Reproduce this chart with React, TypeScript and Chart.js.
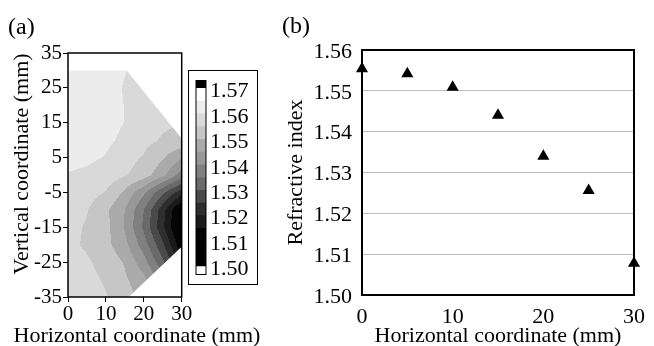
import React, { useEffect, useRef } from 'react';
import { Chart, registerables } from 'chart.js';

Chart.register(...registerables);

const FONT = "'Liberation Serif', 'Times New Roman', Times, serif";
Chart.defaults.font.family = FONT;
Chart.defaults.color = '#000';

// ---------- Panel (a): refractive index map (mm grid) ----------
const mapX = [0, 5, 10, 15, 20, 25, 30];
const mapY = [30, 25, 20, 15, 10, 5, 0, -5, -10, -15, -20, -25, -30, -35];
const mapN = [
  [1.5625, 1.5625, 1.5615, 1.5602, 1.558, 1.556, 1.555],
  [1.5625, 1.5625, 1.5615, 1.5597, 1.558, 1.556, 1.555],
  [1.5625, 1.5625, 1.5615, 1.5599, 1.558, 1.556, 1.555],
  [1.5625, 1.5625, 1.5615, 1.5599, 1.5575, 1.5558, 1.555],
  [1.562, 1.562, 1.561, 1.559, 1.5565, 1.5545, 1.5535],
  [1.5615, 1.561, 1.5597, 1.557, 1.5545, 1.5505, 1.5455],
  [1.5597, 1.559, 1.5575, 1.5555, 1.5525, 1.5465, 1.5375],
  [1.5585, 1.557, 1.5548, 1.549, 1.541, 1.531, 1.522],
  [1.557, 1.5553, 1.551, 1.545, 1.535, 1.522, 1.508],
  [1.5565, 1.5545, 1.5515, 1.5445, 1.534, 1.521, 1.507],
  [1.5562, 1.5543, 1.5515, 1.5465, 1.5375, 1.526, 1.511],
  [1.5568, 1.5556, 1.5535, 1.5495, 1.542, 1.531, 1.518],
  [1.5572, 1.5562, 1.5545, 1.5508, 1.5465, 1.538, 1.526],
  [1.5576, 1.5567, 1.5553, 1.5525, 1.548, 1.541, 1.532],
];
// measured region outline (mm)
const domainX = [0, 15.5, 30, 30, 16, 0];
const domainY = [30, 30, 10.5, -20.6, -35, -35];

// contour levels and grey shades
const levels = [1.5, 1.505, 1.51, 1.515, 1.52, 1.525, 1.53, 1.535, 1.54, 1.545, 1.55, 1.555, 1.56, 1.565, 1.57];
const bandColors = [
  '#000000', '#000000', '#050505', '#1a1a1a', '#2e2e2e', '#4a4a4a', '#6a6a6a',
  '#808080', '#989898', '#aaaaaa', '#c6c6c6', '#d9d9d9', '#ececec', '#ffffff',
];
const overColor = '#000000';
const underColor = '#ffffff';
const cbTicks = [1.5, 1.51, 1.52, 1.53, 1.54, 1.55, 1.56, 1.57];
const cbMin = 1.4969;
const cbMax = 1.5731;

const axTicksX = [0, 10, 20, 30];
const axTicksY = [-35, -25, -15, -5, 5, 15, 25, 35];

// ---------- Panel (b): refractive index profile ----------
const profX = [0, 5, 10, 15, 20, 25, 30];
const profN = [1.5554, 1.5542, 1.5509, 1.544, 1.534, 1.5256, 1.5078];

// ---------- helpers ----------
function hexToRgb(h: string): number[] {
  const n = parseInt(h.slice(1), 16);
  return [(n >> 16) & 255, (n >> 8) & 255, n & 255];
}
const bandRgb = bandColors.map(hexToRgb);
const overRgb = hexToRgb(overColor);
const underRgb = hexToRgb(underColor);

function bandRgbFor(v: number): number[] {
  if (v < levels[0]) return underRgb;
  for (let k = 0; k < levels.length - 1; k++) if (v < levels[k + 1]) return bandRgb[k];
  return overRgb;
}

function locate(arr: number[], v: number): [number, number] {
  const lo = Math.min(arr[0], arr[arr.length - 1]);
  const hi = Math.max(arr[0], arr[arr.length - 1]);
  const c = Math.min(hi, Math.max(lo, v));
  for (let i = 0; i < arr.length - 1; i++) {
    const a = arr[i], b = arr[i + 1];
    if ((c - a) * (c - b) <= 0) return [i, (c - a) / (b - a)];
  }
  return [arr.length - 2, 1];
}

function mapValue(x: number, y: number): number {
  const [i, tx] = locate(mapX, x);
  const [j, ty] = locate(mapY, y);
  const a = mapN[j][i] * (1 - tx) + mapN[j][i + 1] * tx;
  const b = mapN[j + 1][i] * (1 - tx) + mapN[j + 1][i + 1] * tx;
  return a * (1 - ty) + b * ty;
}

const contourPlugin = {
  id: 'contour',
  beforeDatasetsDraw(chart: any) {
    const { ctx, chartArea: ca, scales } = chart;
    const xs = scales.x, ys = scales.y;
    const w = Math.ceil(ca.right - ca.left);
    const h = Math.ceil(ca.bottom - ca.top);
    const off = document.createElement('canvas');
    off.width = w;
    off.height = h;
    const octx = off.getContext('2d')!;
    const img = octx.createImageData(w, h);
    for (let j = 0; j < h; j++) {
      const vy = ys.getValueForPixel(ca.top + j + 0.5);
      for (let i = 0; i < w; i++) {
        const vx = xs.getValueForPixel(ca.left + i + 0.5);
        const c = bandRgbFor(mapValue(vx, vy));
        const p = (j * w + i) * 4;
        img.data[p] = c[0];
        img.data[p + 1] = c[1];
        img.data[p + 2] = c[2];
        img.data[p + 3] = 255;
      }
    }
    octx.putImageData(img, 0, 0);
    ctx.save();
    ctx.beginPath();
    domainX.forEach((dx, k) => {
      const px = xs.getPixelForValue(dx);
      const py = ys.getPixelForValue(domainY[k]);
      if (k === 0) ctx.moveTo(px, py);
      else ctx.lineTo(px, py);
    });
    ctx.closePath();
    ctx.clip();
    ctx.drawImage(off, ca.left, ca.top);
    ctx.restore();
  },
};

const framePlugin = {
  id: 'frame',
  beforeDatasetsDraw(chart: any, _a: any, opts: any) {
    if (opts.after) return;
    drawFrame(chart, opts);
  },
  afterDatasetsDraw(chart: any, _a: any, opts: any) {
    if (!opts.after) return;
    drawFrame(chart, opts);
  },
};
function drawFrame(chart: any, opts: any) {
  const { ctx, chartArea: ca } = chart;
  ctx.save();
  ctx.strokeStyle = opts.color || '#000';
  ctx.lineWidth = opts.width || 1;
  ctx.strokeRect(ca.left, ca.top, ca.right - ca.left, ca.bottom - ca.top);
  ctx.restore();
}

const textPlugin = {
  id: 'panelText',
  afterDraw(chart: any, _a: any, opts: any) {
    const ctx = chart.ctx;
    for (const it of opts.items || []) {
      ctx.save();
      ctx.translate(it.x, it.y);
      ctx.rotate(it.rotation || 0);
      ctx.font = `${it.size}px ${FONT}`;
      ctx.fillStyle = '#000';
      ctx.textAlign = 'center';
      ctx.textBaseline = 'middle';
      ctx.fillText(it.text, 0, 0);
      ctx.restore();
    }
  },
};

export default function App() {
  const aRef = useRef<HTMLCanvasElement>(null);
  const bRef = useRef<HTMLCanvasElement>(null);
  const cRef = useRef<HTMLCanvasElement>(null);

  useEffect(() => {
    const chartA = new Chart(aRef.current!, {
      type: 'scatter',
      data: { datasets: [] },
      options: {
        animation: false,
        responsive: false,
        layout: { padding: { left: 8, right: 88.3, top: 0, bottom: 0 } },
        plugins: {
          legend: { display: false },
          tooltip: { enabled: false },
          title: {
            display: true,
            text: '(a)',
            align: 'start',
            color: '#000',
            font: { size: 24, weight: 'normal', family: FONT, lineHeight: 1.1 },
            padding: { top: 14.8, bottom: 11.8 },
          },
          frame: { width: 1.5, after: true },
          panelText: {
            items: [
              { text: 'Horizontal coordinate (mm)', x: 137, y: 336, size: 22 },
              { text: 'Vertical coordinate (mm)', x: 22.5, y: 164, size: 22, rotation: -Math.PI / 2 },
            ],
          },
        } as any,
        scales: {
          x: {
            type: 'linear',
            min: 0,
            max: 30,
            afterBuildTicks: (s: any) => { s.ticks = axTicksX.map((v) => ({ value: v })); },
            afterFit: (s: any) => { s.height = 49; },
            ticks: { font: { size: 21 }, color: '#000', padding: 0 },
            grid: { display: true, drawOnChartArea: false, drawTicks: true, tickLength: 5, color: '#000' },
            border: { display: false },
          },
          y: {
            type: 'linear',
            min: -35,
            max: 35,
            afterBuildTicks: (s: any) => { s.ticks = axTicksY.map((v) => ({ value: v })); },
            afterFit: (s: any) => { s.width = 60; },
            ticks: { font: { size: 21 }, color: '#000', padding: 1 },
            grid: { display: true, drawOnChartArea: false, drawTicks: true, tickLength: 5, color: '#000' },
            border: { display: false },
          },
        },
      },
      plugins: [contourPlugin, framePlugin, textPlugin],
    } as any);

    const cbDatasets = [
      { data: [[cbMin, levels[0]]], backgroundColor: underColor },
      ...bandColors.map((c, k) => ({ data: [[levels[k], levels[k + 1]]], backgroundColor: c })),
      { data: [[levels[levels.length - 1], cbMax]], backgroundColor: overColor },
    ].map((d) => ({
      ...d,
      grouped: false,
      barPercentage: 1,
      categoryPercentage: 1,
      borderWidth: 0,
    }));

    const chartC = new Chart(cRef.current!, {
      type: 'bar',
      data: { labels: [''], datasets: cbDatasets },
      options: {
        animation: false,
        responsive: false,
        layout: { padding: { left: 7, top: 6, bottom: 9, right: 0 } },
        plugins: {
          legend: { display: false },
          tooltip: { enabled: false },
          frame: { width: 1, after: true },
        } as any,
        scales: {
          x: { display: false },
          y: {
            position: 'right',
            min: cbMin,
            max: cbMax,
            z: 1,
            afterBuildTicks: (s: any) => { s.ticks = cbTicks.map((v) => ({ value: v })); },
            afterFit: (s: any) => { s.width = 51; },
            ticks: {
              font: { size: 22, lineHeight: 0.5 },
              color: '#000',
              padding: 4,
              labelOffset: 3,
              callback: (v: any) => Number(v).toFixed(2),
            },
            grid: { drawTicks: false, color: '#333', lineWidth: 1 },
            border: { display: false },
          },
        },
      },
      plugins: [framePlugin],
    } as any);

    const chartB = new Chart(bRef.current!, {
      type: 'scatter',
      data: {
        datasets: [
          {
            data: profX.map((x, i) => ({ x, y: profN[i] })),
            pointStyle: 'triangle',
            pointRadius: 7,
            pointBackgroundColor: '#000',
            pointBorderColor: '#000',
            pointBorderWidth: 0,
            showLine: false,
            clip: false,
          },
        ],
      },
      options: {
        animation: false,
        responsive: false,
        layout: { padding: { left: 10, right: 11, top: 0, bottom: 0 } },
        plugins: {
          legend: { display: false },
          tooltip: { enabled: false },
          title: {
            display: true,
            text: '(b)',
            align: 'start',
            color: '#000',
            font: { size: 24, weight: 'normal', family: FONT, lineHeight: 1.1 },
            padding: { top: 14, bottom: 9.6 },
          },
          frame: { width: 2, after: false },
        } as any,
        scales: {
          x: {
            type: 'linear',
            min: 0,
            max: 30,
            afterBuildTicks: (s: any) => { s.ticks = axTicksX.map((v) => ({ value: v })); },
            afterFit: (s: any) => { s.height = 51; },
            ticks: { font: { size: 22 }, color: '#000', padding: 9 },
            grid: { display: false, drawTicks: false },
            border: { display: false },
            title: {
              display: true,
              text: 'Horizontal coordinate (mm)',
              color: '#000',
              font: { size: 22, lineHeight: 0.9 },
              padding: { top: 0, bottom: 0 },
            },
          },
          y: {
            type: 'linear',
            min: 1.5,
            max: 1.56,
            afterBuildTicks: (s: any) => { s.ticks = cbTicks.slice(0, 7).map((v) => ({ value: v })); },
            afterFit: (s: any) => { s.width = 80; },
            ticks: {
              font: { size: 22 },
              color: '#000',
              padding: 10,
              labelOffset: 2,
              callback: (v: any) => Number(v).toFixed(2),
            },
            grid: { drawTicks: false, color: '#bdbdbd', lineWidth: 1 },
            border: { display: false },
            title: {
              display: true,
              text: 'Refractive index',
              color: '#000',
              font: { size: 22 },
              padding: { top: 1, bottom: 0 },
            },
          },
        },
      },
      plugins: [framePlugin],
    } as any);

    return () => {
      chartA.destroy();
      chartB.destroy();
      chartC.destroy();
    };
  }, []);

  return (
    <div style={{ position: 'absolute', left: 0, top: 0, width: 654, height: 346, background: '#fff', overflow: 'hidden' }}>
      <canvas ref={aRef} width={270} height={346} style={{ position: 'absolute', left: 0, top: 0, width: 270, height: 346 }} />
      <canvas ref={bRef} width={382} height={346} style={{ position: 'absolute', left: 272, top: 0, width: 382, height: 346 }} />
      <div style={{ position: 'absolute', left: 188, top: 70, width: 68, height: 213, border: '1px solid #000' }}>
        <canvas ref={cRef} width={68} height={213} style={{ position: 'absolute', left: 0, top: 0, width: 68, height: 213 }} />
      </div>
    </div>
  );
}
